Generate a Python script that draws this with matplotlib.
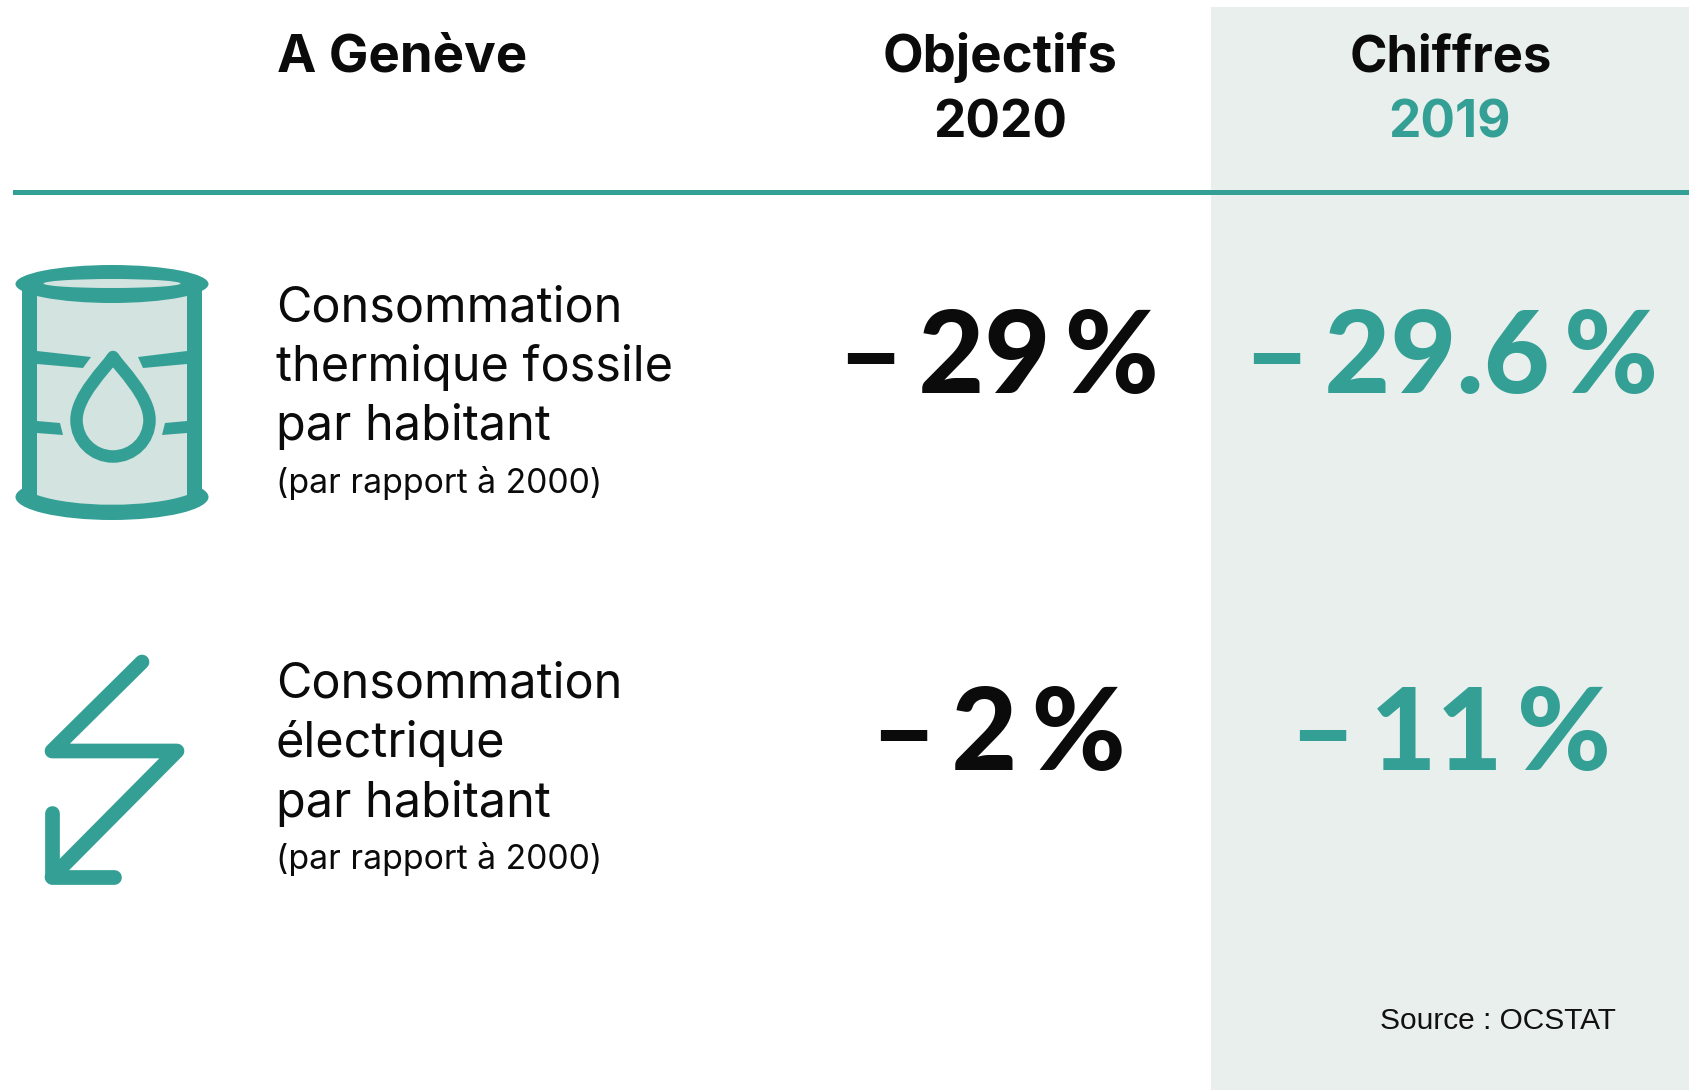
import matplotlib
matplotlib.use("Agg")
import matplotlib.pyplot as plt
from matplotlib.patches import Rectangle, Ellipse, PathPatch, Polygon
from matplotlib.path import Path

W, H = 1689, 1090
TEAL = "#34A095"
LIGHT = "#D3E3E0"
PANEL = "#E8EFED"
BLACK = "#0B0B0B"
FONT = "Inter"
BIG = "Lato"

col_place = "A Genève"
col_goal = ["Objectifs", "2020"]
col_actual = ["Chiffres", "2019"]
row_labels = [["Consommation", "thermique fossile", "par habitant"],
              ["Consommation", "électrique", "par habitant"]]
row_note = "(par rapport à 2000)"
goal_values = ["–\u200929\u2009%", "–\u20092\u2009%"]
actual_values = ["–\u200929.6\u2009%", "–\u200911\u2009%"]
source = "Source : OCSTAT"

fig = plt.figure(figsize=(W / 100, H / 100), dpi=100, facecolor="white")
ax = fig.add_axes([0, 0, 1, 1])
ax.set_xlim(0, W)
ax.set_ylim(H, 0)
ax.axis("off")

ax.add_patch(Rectangle((1211, 7), W - 1211, H - 7, fc=PANEL, ec="none", zorder=0))
ax.add_patch(Rectangle((13, 189.5), W - 13, 5, fc=TEAL, ec="none", zorder=1))


def T(x, y, s, size, color=BLACK, weight="normal", ha="left", family=FONT):
    ax.text(x, y, s, fontsize=size, color=color, fontweight=weight, ha=ha,
            va="baseline", family=family, zorder=5)


T(277, 72, col_place, 38, weight="bold")
T(1000, 72, col_goal[0], 38, weight="bold", ha="center")
T(1000, 138, col_goal[1], 37, weight="bold", ha="center")
T(1451, 72, col_actual[0], 36.5, weight="bold", ha="center")
T(1450, 138, col_actual[1], 37, color=TEAL, weight="bold", ha="center")

row_base = [[321, 381, 440, 493], [698, 757, 817, 869]]
for labels, base in zip(row_labels, row_base):
    for s, y in zip(labels, base[:3]):
        T(276, y, s, 35)
    T(276, base[3], row_note, 24.3)

val_base = [393, 770]
for g, a, y, sz in zip(goal_values, actual_values, val_base, [82, 82]):
    T(998, y, g, sz, weight="black", ha="center", family=BIG)
    T(1451, y, a, sz, color=TEAL, weight="black", ha="center", family=BIG)

T(1380, 1029, source, 21.5, color="#111111", family="Liberation Sans")

# Barrel icon
ax.add_patch(Ellipse((112, 497), 193, 46, fc=TEAL, ec="none", zorder=2))
body = Path([(37, 290), (187, 290), (187, 495), (150, 508), (74, 508), (37, 495), (37, 290)],
            [Path.MOVETO, Path.LINETO, Path.LINETO, Path.CURVE4, Path.CURVE4, Path.CURVE4, Path.CLOSEPOLY])
ax.add_patch(PathPatch(body, fc=LIGHT, ec="none", zorder=2.1))
ax.add_patch(Rectangle((22, 290), 15, 208, fc=TEAL, ec="none", zorder=2.2))
ax.add_patch(Rectangle((187, 290), 15, 208, fc=TEAL, ec="none", zorder=2.2))
ax.add_patch(Ellipse((112, 284), 193, 38, fc=TEAL, ec="none", zorder=2.3))
ax.add_patch(Ellipse((112, 283.5), 137, 9, fc=LIGHT, ec="none", zorder=2.4))
for pts in ([(37, 351), (91, 357), (83, 368), (37, 364)],
            [(187, 351), (138, 357), (143, 368), (187, 364)],
            [(37, 421), (60, 423), (63, 435), (37, 433)],
            [(187, 421), (165, 423), (162, 435), (187, 433)]):
    ax.add_patch(Polygon(pts, closed=True, fc=TEAL, ec="none", zorder=2.5))
cx, cy, r, k = 113, 420, 36.5, 0.5523 * 36.5
drop = Path([(cx, 357),
             (cx + 8, 369), (cx + r, 396), (cx + r, cy),
             (cx + r, cy + k), (cx + k, cy + r), (cx, cy + r),
             (cx - k, cy + r), (cx - r, cy + k), (cx - r, cy),
             (cx - r, 396), (cx - 8, 369), (cx, 357),
             (cx, 357)],
            [Path.MOVETO] + [Path.CURVE4] * 12 + [Path.CLOSEPOLY])
ax.add_patch(PathPatch(drop, fc="none", ec=TEAL, lw=9, joinstyle="round", zorder=2.6))

# Lightning icon
ax.plot([142, 52, 177, 52], [662, 751, 751, 877], color=TEAL, lw=10.6,
        solid_capstyle="round", solid_joinstyle="round", zorder=3)
ax.plot([52, 52, 114], [813, 877, 877], color=TEAL, lw=10.6,
        solid_capstyle="round", solid_joinstyle="round", zorder=3)

fig.savefig("out.png", dpi=100)
